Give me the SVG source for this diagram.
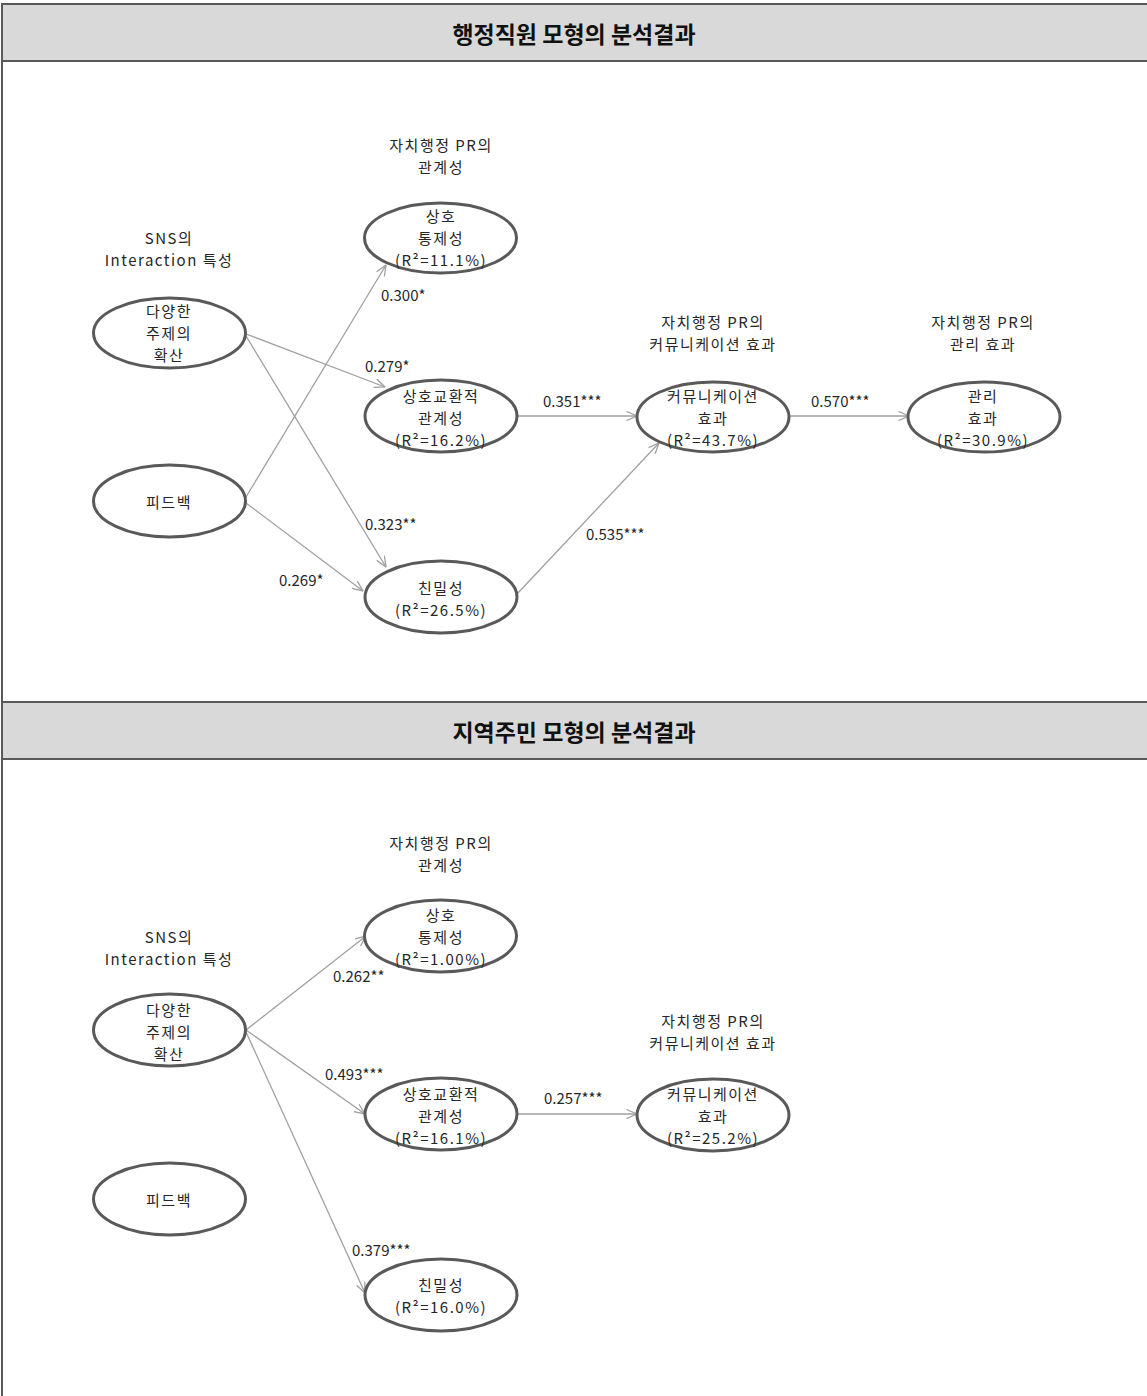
<svg xmlns="http://www.w3.org/2000/svg" width="1147" height="1396" viewBox="0 0 1147 1396">
<style>
  text { font-family: "Malgun Gothic", "Noto Sans CJK KR", "Noto Sans", sans-serif; fill: #262626; }
  .t { font-size: 15px; letter-spacing: 1.5px; text-anchor: middle; dominant-baseline: central; }
  .c { font-size: 15px; dominant-baseline: central; }
  .title { font-size: 23px; font-weight: bold; text-anchor: middle; dominant-baseline: central; fill: #111; }
  .band { fill: #d9d9d9; stroke: #595959; stroke-width: 2; }
  .node ellipse { fill: #ffffff; stroke: #595959; stroke-width: 3; }
  .edge { stroke: #a0a0a0; stroke-width: 1.3; fill: none; marker-end: url(#arr); }
</style>
<defs>
  <marker id="arr" viewBox="0 0 12 10" refX="11.5" refY="5" markerWidth="12" markerHeight="10" orient="auto" markerUnits="userSpaceOnUse">
    <path d="M1,0.5 L11.5,5 L1,9.5" fill="none" stroke="#a0a0a0" stroke-width="1.3"/>
  </marker>
</defs>
<rect x="0" y="0" width="1147" height="1396" fill="#ffffff"/>

<!-- frame & headers -->
<g id="frame">
  <line x1="2" y1="4" x2="2" y2="1396" stroke="#595959" stroke-width="2"/>
  <rect class="band" x="2" y="4" width="1150" height="57"/>
  <text class="title" x="574" y="33">행정직원 모형의 분석결과</text>
  <rect class="band" x="2" y="702" width="1150" height="57"/>
  <text class="title" x="574" y="731">지역주민 모형의 분석결과</text>
</g>

<!-- connectors -->
<g id="connectors">
  <line class="edge" x1="246" y1="497" x2="386" y2="265"/>
  <line class="edge" x1="246" y1="334" x2="385" y2="387"/>
  <line class="edge" x1="246" y1="336" x2="386" y2="567"/>
  <line class="edge" x1="246" y1="503" x2="363" y2="591"/>
  <line class="edge" x1="517" y1="416" x2="637" y2="416"/>
  <line class="edge" x1="517" y1="594" x2="659" y2="443"/>
  <line class="edge" x1="789" y1="416" x2="909" y2="416"/>

  <line class="edge" x1="246" y1="1030" x2="366" y2="936"/>
  <line class="edge" x1="246" y1="1030" x2="365" y2="1114"/>
  <line class="edge" x1="246" y1="1032" x2="365" y2="1293"/>
  <line class="edge" x1="517" y1="1114" x2="637" y2="1114"/>
</g>

<!-- edge labels -->
<g id="edge-labels">
  <text class="c" x="381" y="294">0.300*</text>
  <text class="c" x="365" y="365">0.279*</text>
  <text class="c" x="543" y="400">0.351***</text>
  <text class="c" x="811" y="400">0.570***</text>
  <text class="c" x="365" y="523">0.323**</text>
  <text class="c" x="586" y="533">0.535***</text>
  <text class="c" x="279" y="579">0.269*</text>

  <text class="c" x="333" y="975">0.262**</text>
  <text class="c" x="325" y="1073">0.493***</text>
  <text class="c" x="544" y="1097">0.257***</text>
  <text class="c" x="352" y="1249">0.379***</text>
</g>

<!-- group labels -->
<g id="group-labels">
  <text class="t" x="441" y="144">자치행정 PR의</text>
  <text class="t" x="441" y="166">관계성</text>
  <text class="t" x="169" y="237">SNS의</text>
  <text class="t" x="169" y="259">Interaction 특성</text>
  <text class="t" x="713" y="321">자치행정 PR의</text>
  <text class="t" x="713" y="343">커뮤니케이션 효과</text>
  <text class="t" x="983" y="321">자치행정 PR의</text>
  <text class="t" x="983" y="343">관리 효과</text>

  <text class="t" x="441" y="842">자치행정 PR의</text>
  <text class="t" x="441" y="864">관계성</text>
  <text class="t" x="169" y="936">SNS의</text>
  <text class="t" x="169" y="958">Interaction 특성</text>
  <text class="t" x="713" y="1020">자치행정 PR의</text>
  <text class="t" x="713" y="1042">커뮤니케이션 효과</text>
</g>

<!-- nodes: top model -->
<g id="a-diverse" class="node">
  <ellipse cx="169.5" cy="333" rx="76" ry="35"/>
  <text class="t" x="169" y="310">다양한</text>
  <text class="t" x="169" y="332">주제의</text>
  <text class="t" x="169" y="354">확산</text>
</g>
<g id="a-feedback" class="node">
  <ellipse cx="169.5" cy="501" rx="76" ry="36"/>
  <text class="t" x="169" y="501">피드백</text>
</g>
<g id="a-control" class="node">
  <ellipse cx="440.5" cy="238" rx="76" ry="35"/>
  <text class="t" x="441" y="215">상호</text>
  <text class="t" x="441" y="237">통제성</text>
  <text class="t" x="441" y="259">(R²=11.1%)</text>
</g>
<g id="a-exchange" class="node">
  <ellipse cx="441" cy="416" rx="76" ry="36"/>
  <text class="t" x="441" y="395">상호교환적</text>
  <text class="t" x="441" y="417">관계성</text>
  <text class="t" x="441" y="439">(R²=16.2%)</text>
</g>
<g id="a-intimacy" class="node">
  <ellipse cx="441" cy="597" rx="76" ry="36"/>
  <text class="t" x="441" y="587">친밀성</text>
  <text class="t" x="441" y="609">(R²=26.5%)</text>
</g>
<g id="a-comm" class="node">
  <ellipse cx="713" cy="417" rx="76" ry="35"/>
  <text class="t" x="713" y="395">커뮤니케이션</text>
  <text class="t" x="713" y="417">효과</text>
  <text class="t" x="713" y="439">(R²=43.7%)</text>
</g>
<g id="a-mgmt" class="node">
  <ellipse cx="984" cy="417" rx="76" ry="35"/>
  <text class="t" x="983" y="395">관리</text>
  <text class="t" x="983" y="417">효과</text>
  <text class="t" x="983" y="439">(R²=30.9%)</text>
</g>

<!-- nodes: bottom model -->
<g id="b-diverse" class="node">
  <ellipse cx="169.5" cy="1030" rx="76" ry="36"/>
  <text class="t" x="169" y="1009">다양한</text>
  <text class="t" x="169" y="1031">주제의</text>
  <text class="t" x="169" y="1053">확산</text>
</g>
<g id="b-feedback" class="node">
  <ellipse cx="169.5" cy="1199" rx="76" ry="36"/>
  <text class="t" x="169" y="1199">피드백</text>
</g>
<g id="b-control" class="node">
  <ellipse cx="440.5" cy="936" rx="76" ry="36"/>
  <text class="t" x="441" y="914">상호</text>
  <text class="t" x="441" y="936">통제성</text>
  <text class="t" x="441" y="958">(R²=1.00%)</text>
</g>
<g id="b-exchange" class="node">
  <ellipse cx="441" cy="1114" rx="76" ry="36"/>
  <text class="t" x="441" y="1093">상호교환적</text>
  <text class="t" x="441" y="1115">관계성</text>
  <text class="t" x="441" y="1137">(R²=16.1%)</text>
</g>
<g id="b-intimacy" class="node">
  <ellipse cx="441" cy="1295" rx="76" ry="36"/>
  <text class="t" x="441" y="1284">친밀성</text>
  <text class="t" x="441" y="1306">(R²=16.0%)</text>
</g>
<g id="b-comm" class="node">
  <ellipse cx="713" cy="1115" rx="76" ry="36"/>
  <text class="t" x="713" y="1093">커뮤니케이션</text>
  <text class="t" x="713" y="1115">효과</text>
  <text class="t" x="713" y="1137">(R²=25.2%)</text>
</g>
</svg>
